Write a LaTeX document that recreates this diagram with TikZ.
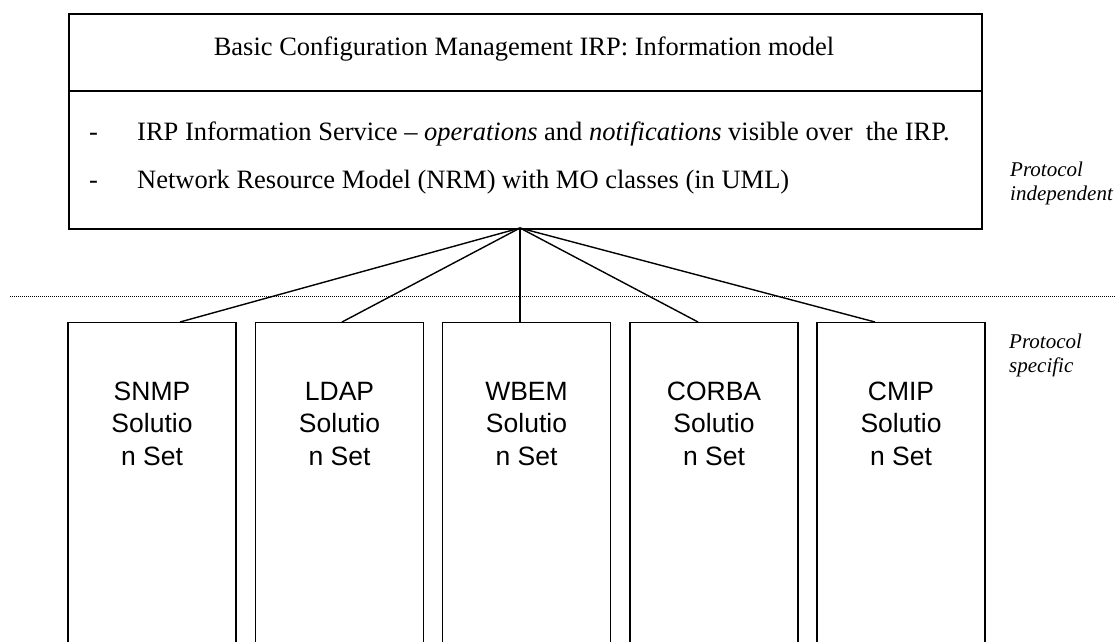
\documentclass[tikz,border=0pt]{standalone}
\usepackage{fontspec}
\setmainfont{Liberation Serif}
\setsansfont{Liberation Sans}
\begin{document}
\begin{tikzpicture}[x=1pt,y=-1pt,
  frame/.style={draw, line width=1.5pt, inner sep=0pt, anchor=north west},
  ssbox/.style={draw, line width=1.4pt, minimum width=168pt, minimum height=340pt, anchor=north, inner sep=0pt},
  sstext/.style={anchor=base, align=center, inner sep=0pt, font=\sffamily\fontsize{26.5}{32.5}\selectfont},
  mtext/.style={inner sep=0pt, font=\fontsize{26.5}{30}\selectfont},
  side/.style={anchor=base west, inner sep=0pt, align=left, font=\itshape\fontsize{21}{23.5}\selectfont},
  conn/.style={line width=1.4pt}]
\useasboundingbox (0,0) rectangle (1115,641);
\clip (0,0) rectangle (1115,641);
% top box
\node[frame, minimum width=913pt, minimum height=77pt] (title) at (68,13) {};
\node[frame, minimum width=913pt, minimum height=138pt] (body) at (68,90) {};
\node[mtext, anchor=base] (titletext) at (524,55) {Basic Configuration Management IRP: Information model};
\node[mtext, anchor=base west] (d1) at (89,140) {-};
\node[mtext, anchor=base west] (b1) at (137,140) {IRP Information Service – \textit{operations} and \textit{notifications} visible over\ \ the IRP.};
\node[mtext, anchor=base west] (d2) at (89,188) {-};
\node[mtext, anchor=base west] (b2) at (137,188) {Network Resource Model (NRM) with MO classes (in UML)};
% side labels
\node[side] (pi) at (1010,200) {Protocol\\independent};
\node[side] (ps) at (1009,372) {Protocol\\specific};
% dotted divider
\coordinate (dl) at (10,296);
\coordinate (dr) at (1115,296);
\draw[line width=1pt, dash pattern=on 1pt off 1pt] (dl) -- (dr);
% solution set boxes
\node[ssbox] (snmp) at (152,322) {};
\node[ssbox] (ldap) at (339.5,322) {};
\node[ssbox] (wbem) at (526.5,322) {};
\node[ssbox] (corba) at (714,322) {};
\node[ssbox] (cmip) at (901,322) {};
\node[sstext] (snmpt) at (152,465) {SNMP\\Solutio\\n Set};
\node[sstext] (ldapt) at (339.5,465) {LDAP\\Solutio\\n Set};
\node[sstext] (wbemt) at (526.5,465) {WBEM\\Solutio\\n Set};
\node[sstext] (corbat) at (714,465) {CORBA\\Solutio\\n Set};
\node[sstext] (cmipt) at (901,465) {CMIP\\Solutio\\n Set};
% connectors
\coordinate (apex) at (520,228);
\draw[conn] (apex) -- ([xshift=28pt]snmp.north);
\draw[conn] (apex) -- ([xshift=2.5pt]ldap.north);
\draw[conn] (apex) -- ([xshift=-6.5pt]wbem.north);
\draw[conn] (apex) -- ([xshift=-16pt]corba.north);
\draw[conn] (apex) -- ([xshift=-26pt]cmip.north);
\end{tikzpicture}
\end{document}
